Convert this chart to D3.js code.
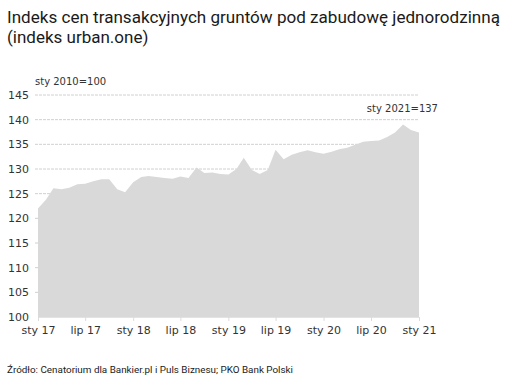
<!DOCTYPE html>
<html>
<head>
<meta charset="utf-8">
<script src="https://cdn.jsdelivr.net/npm/d3@7"></script>
<style>
  body { margin: 0; background: #fff; }
  svg { display: block; }
</style>
</head>
<body>
<svg width="516" height="388"></svg>
<script>
// monthly index, sty 2017 .. sty 2021 (sty 2010 = 100)
const startMonth = '2017-01'
const values = [
    122.0, 123.8, 126.1, 125.9, 126.2, 126.9, 127.0, 127.5, 127.9, 127.9, 125.9, 125.3,
    127.3, 128.4, 128.6, 128.4, 128.2, 128.0, 128.5, 128.2, 130.3, 129.2, 129.3, 129.0,
    128.9, 130.0, 132.3, 129.8, 129.0, 129.8, 133.9, 132.0, 132.9, 133.4, 133.8, 133.4,
    133.1, 133.5, 134.0, 134.3, 134.9, 135.5, 135.7, 135.8, 136.5, 137.4, 139.0, 137.9,
    137.4
]
const yTicks = [100, 105, 110, 115, 120, 125, 130, 135, 140, 145]
const xTickLabels = ['sty 17', 'lip 17', 'sty 18', 'lip 18', 'sty 19', 'lip 19', 'sty 20', 'lip 20', 'sty 21']

const parse = d3.timeParse('%Y-%m')
const t0 = parse(startMonth)
const data = values.map((v, i) => ({ date: d3.timeMonth.offset(t0, i), value: v }))
const xTickDates = xTickLabels.map((d, i) => d3.timeMonth.offset(t0, i * 6))

const svg = d3.select('svg')

const x = d3.scaleTime()
    .domain([data[0].date, data[data.length - 1].date])
    .range([38, 419])

const y = d3.scaleLinear()
    .domain([100, 145])
    .range([317, 95])

// title
const title = svg.append('g')
    .attr('font-family', 'Roboto, sans-serif')
    .attr('font-size', 17)
    .attr('fill', '#1a1a1a')

title.append('text')
    .attr('x', 7).attr('y', 23)
    .attr('textLength', 493)
    .attr('lengthAdjust', 'spacingAndGlyphs')
    .text('Indeks cen transakcyjnych gruntów pod zabudowę jednorodzinną')

title.append('text')
    .attr('x', 7).attr('y', 43)
    .text('(indeks urban.one)')

// gridlines
svg.append('g')
    .selectAll('line')
    .data(yTicks.filter(d => d > 100))
    .enter()
    .append('line')
    .attr('x1', 35).attr('x2', 419)
    .attr('y1', d => y(d)).attr('y2', d => y(d))
    .attr('stroke', '#d0d0d0')
    .attr('stroke-width', 1)
    .attr('stroke-dasharray', '3,1')

// area
const area = d3.area()
    .x(d => x(d.date))
    .y0(y(100))
    .y1(d => y(d.value))

svg.append('path')
    .datum(data)
    .attr('d', area)
    .attr('fill', '#d9d9d9')

// y axis
const yAxis = svg.append('g')
    .attr('transform', 'translate(29,0)')
    .call(d3.axisLeft(y).tickValues(yTicks).tickSize(0).tickPadding(0))

yAxis.select('.domain').remove()
yAxis.selectAll('text')
    .attr('font-family', 'DejaVu Sans, sans-serif')
    .attr('font-size', 11)
    .attr('fill', '#333')

// x axis
const xAxis = svg.append('g')
    .attr('transform', `translate(0,${y(100)})`)
    .call(d3.axisBottom(x)
        .tickValues(xTickDates)
        .tickFormat((d, i) => xTickLabels[i])
        .tickSize(4)
        .tickPadding(5))

xAxis.select('.domain')
    .attr('stroke', '#e3e3e3')
xAxis.selectAll('.tick line')
    .attr('stroke', '#dcdcdc')
xAxis.selectAll('text')
    .attr('font-family', 'DejaVu Sans, sans-serif')
    .attr('font-size', 11)
    .attr('fill', '#333')

// annotations
svg.append('text')
    .attr('x', 35).attr('y', 85)
    .attr('font-family', 'DejaVu Sans, sans-serif')
    .attr('font-size', 10)
    .attr('fill', '#333')
    .text('sty 2010=100')

const last = data[data.length - 1]
svg.append('text')
    .attr('x', 438).attr('y', 112)
    .attr('text-anchor', 'end')
    .attr('font-family', 'DejaVu Sans, sans-serif')
    .attr('font-size', 10)
    .attr('fill', '#333')
    .text('sty 2021=' + Math.round(last.value))

// source
svg.append('text')
    .attr('x', 7).attr('y', 373)
    .attr('font-family', 'Roboto, sans-serif')
    .attr('font-size', 9.5)
    .attr('fill', '#1a1a1a')
    .attr('textLength', 286)
    .attr('lengthAdjust', 'spacingAndGlyphs')
    .text('Źródło: Cenatorium dla Bankier.pl i Puls Biznesu; PKO Bank Polski')
</script>
</body>
</html>
